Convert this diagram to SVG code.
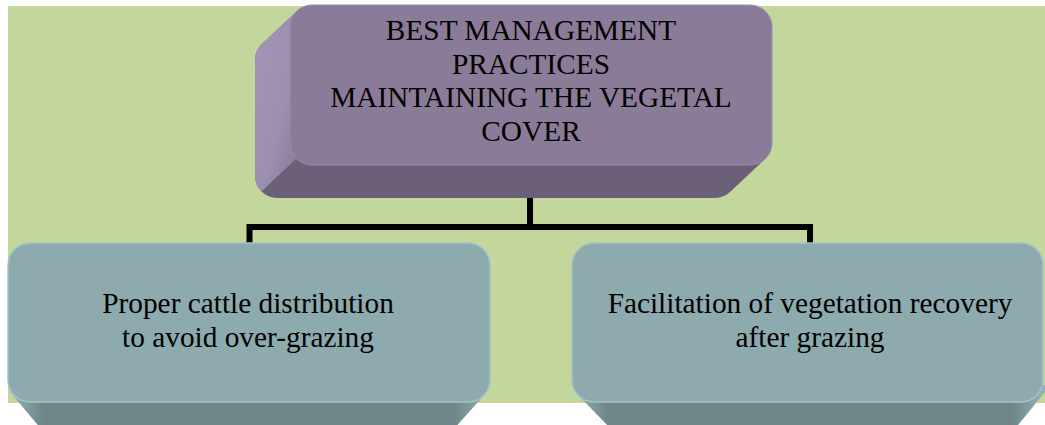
<svg xmlns="http://www.w3.org/2000/svg" width="1045" height="425" viewBox="0 0 1045 425">
<style>
.t{font-family:"Liberation Serif","Times New Roman",serif;font-size:29.33px;fill:#000;text-anchor:middle}
.pf{fill:#8A7C99;stroke:#9A8DAB;stroke-width:1}
.pd{fill:#6B6077}
.tf{fill:#8DABAE;stroke:#A3C3C8;stroke-width:1.5}
.conn{fill:none;stroke:#000;stroke-width:6;stroke-linejoin:miter}
</style>
<defs>
<linearGradient id="pl" x1="0" y1="0" x2="1" y2="1">
<stop offset="0" stop-color="#A496B7"/>
<stop offset="0.6" stop-color="#9C8EAF"/>
<stop offset="1" stop-color="#807393"/>
</linearGradient>
<linearGradient id="tb" x1="0" y1="0" x2="1" y2="0">
<stop offset="0" stop-color="#94B3B7"/>
<stop offset="0.07" stop-color="#6F8588"/>
<stop offset="0.93" stop-color="#6F8588"/>
<stop offset="1" stop-color="#94B3B7"/>
</linearGradient>
</defs>
<rect x="8" y="6" width="1037" height="397" fill="#C3D69B"/>
<g id="connectors">
<path class="conn" d="M530,197 V227"/>
<path class="conn" d="M249.5,243 V227 H810 V243"/>
</g>
<g id="node-top">
<path class="pd" d="M296.4,11.4 L261.4,44.4 A22,22 0 0 0 255,60 L255,176 A22,22 0 0 0 277,198 L715,198 A22,22 0 0 0 730.6,191.6 L765.6,158.6 L772,143 L772,27 L312,5 Z"/>
<path fill="url(#pl)" d="M296.4,11.4 L261.4,44.4 A22,22 0 0 0 255,60 L255,176 A22,22 0 0 0 261.4,191.6 L296.4,158.6 L300,150 L300,20 Z"/>
<rect class="pf" x="290" y="5" width="482" height="160" rx="22" ry="22"/>
<text class="t" x="531" y="40">BEST MANAGEMENT</text>
<text class="t" x="531" y="73.7">PRACTICES</text>
<text class="t" x="531" y="107.4">MAINTAINING THE VEGETAL</text>
<text class="t" x="531" y="141.1">COVER</text>
</g>
<g id="node-left">
<path fill="url(#tb)" d="M10,385 L487,385 L487,392 L453,430 L42,430 L10,392 Z"/>
<rect class="tf" x="8" y="243" width="482" height="159" rx="22" ry="22"/>
<text class="t" x="248" y="313">Proper cattle distribution</text>
<text class="t" x="248" y="347">to avoid over-grazing</text>
</g>
<g id="node-right">
<path fill="url(#tb)" d="M575,385 L1045,385 L1045,392 L1014,430 L612,430 L575,392 Z"/>
<rect class="tf" x="572" y="243" width="471" height="159" rx="22" ry="22"/>
<text class="t" x="810" y="313">Facilitation of vegetation recovery</text>
<text class="t" x="810" y="347">after grazing</text>
</g>
</svg>
